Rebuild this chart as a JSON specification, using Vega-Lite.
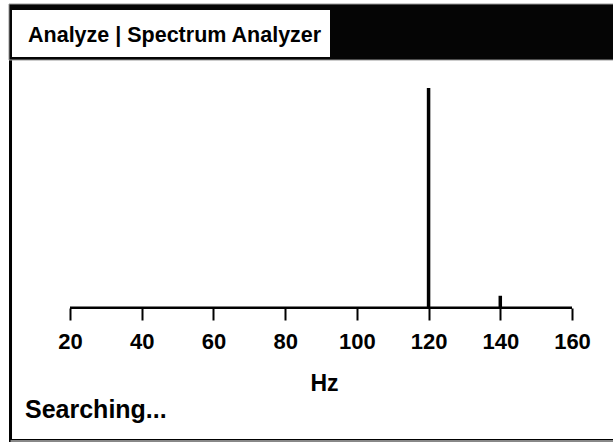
{
  "$schema": "https://vega.github.io/schema/vega-lite/v6.json",
  "width": 613,
  "height": 442,
  "autosize": "none",
  "padding": 0,
  "background": "white",
  "config": {"view": {"stroke": null}, "font": "Liberation Sans"},
  "datasets": {
    "spectrum": [
      {"freq": 120, "amp": 100},
      {"freq": 140, "amp": 5.5}
    ]
  },
  "layer": [
    {
      "data": {"values": [{}]},
      "mark": {"type": "rect", "fill": "white", "stroke": "black", "strokeWidth": 3},
      "encoding": {
        "x": {
          "datum": 3.41, "type": "quantitative",
          "scale": {"domain": [0.478, 171.434], "nice": false, "zero": false},
          "axis": {
            "zindex": 1,
            "offset": -134,
            "domain": false,
            "grid": false,
            "values": [20, 40, 60, 80, 100, 120, 140, 160],
            "tickSize": 12,
            "tickWidth": 2,
            "tickColor": "black",
            "labelFontSize": 22,
            "labelFontWeight": "bold",
            "labelColor": "black",
            "labelPadding": 11,
            "labelFont": "Liberation Sans",
            "title": "Hz",
            "titleFontSize": 23,
            "titleFontWeight": "bold",
            "titleColor": "black",
            "titleFont": "Liberation Sans",
            "titleX": 324,
            "titleY": 64,
            "titleAlign": "center",
            "titleBaseline": "top"
          }
        },
        "x2": {"datum": 176},
        "y": {"datum": 137.5, "type": "quantitative", "scale": {"domain": [-61, 140], "nice": false, "zero": false}, "axis": null},
        "y2": {"datum": -60.32}
      }
    },
    {
      "data": {"values": [{}]},
      "mark": {"type": "rule", "stroke": "#888888", "strokeWidth": 2},
      "encoding": {
        "x": {"datum": 3.41, "type": "quantitative"},
        "x2": {"datum": 176},
        "y": {"datum": -60.5, "type": "quantitative"}
      }
    },
    {
      "data": {"values": [{}]},
      "mark": {"type": "rect", "fill": "#050505", "stroke": "#999999", "strokeWidth": 1},
      "encoding": {
        "x": {"datum": 2.99, "type": "quantitative"},
        "x2": {"datum": 176},
        "y": {"datum": 138.18, "type": "quantitative"},
        "y2": {"datum": 112.71}
      }
    },
    {
      "data": {"values": [{}]},
      "mark": {"type": "rect", "fill": "white"},
      "encoding": {
        "x": {"datum": 3.825, "type": "quantitative"},
        "x2": {"datum": 92.51},
        "y": {"datum": 135.45, "type": "quantitative"},
        "y2": {"datum": 114.08}
      }
    },
    {
      "data": {"values": [{}]},
      "mark": {"type": "text", "text": "Analyze | Spectrum Analyzer", "align": "left", "baseline": "alphabetic", "fontSize": 21.5, "fontWeight": "bold", "color": "black"},
      "encoding": {
        "x": {"datum": 8.29, "type": "quantitative"},
        "y": {"datum": 120.9, "type": "quantitative"}
      }
    },
    {
      "data": {"values": [{}]},
      "mark": {"type": "rule", "stroke": "black", "strokeWidth": 2.5},
      "encoding": {
        "x": {"datum": 20, "type": "quantitative"},
        "x2": {"datum": 160},
        "y": {"datum": 0, "type": "quantitative"}
      }
    },
    {
      "data": {"name": "spectrum"},
      "mark": {"type": "rule", "stroke": "black", "strokeWidth": 3.5},
      "encoding": {
        "x": {"field": "freq", "type": "quantitative"},
        "y": {"field": "amp", "type": "quantitative"},
        "y2": {"datum": 0}
      }
    },
    {
      "data": {"values": [{}]},
      "mark": {"type": "text", "text": "Searching...", "align": "left", "baseline": "alphabetic", "fontSize": 25, "fontWeight": "bold", "color": "black"},
      "encoding": {
        "x": {"datum": 7.45, "type": "quantitative"},
        "y": {"datum": -50.09, "type": "quantitative"}
      }
    }
  ]
}
